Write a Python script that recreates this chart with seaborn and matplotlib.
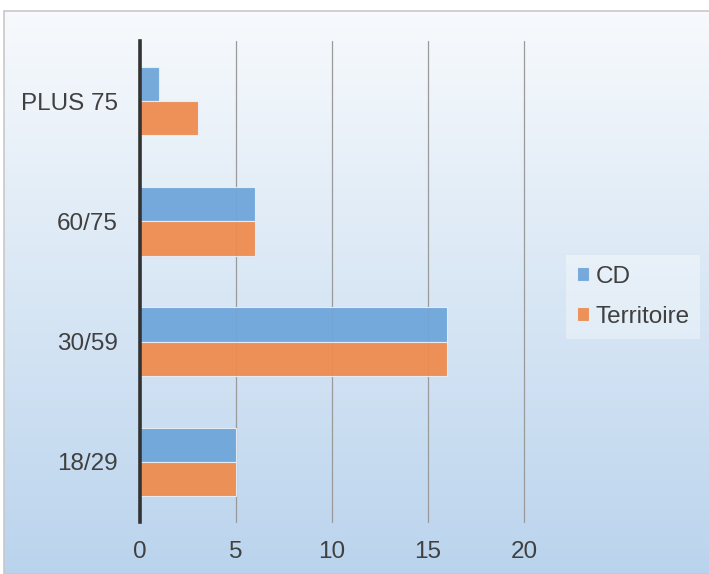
import numpy as np
import pandas as pd
import matplotlib
matplotlib.use("Agg")
import matplotlib.pyplot as plt
import seaborn as sns
from matplotlib.patches import Rectangle

# Données
tranches = ["PLUS 75", "60/75", "30/59", "18/29"]
cd = [1, 6, 16, 5]
territoire = [3, 6, 16, 5]
series = ["CD", "Territoire"]
couleurs = ["#6fa6da", "#ee8c4f"]
ticks_x = [0, 5, 10, 15, 20]

df = pd.DataFrame({
    "tranche": tranches * 2,
    "valeur": cd + territoire,
    "serie": [series[0]] * len(tranches) + [series[1]] * len(tranches),
})

sns.set_style("white")
plt.rcParams["font.family"] = ["Liberation Sans", "DejaVu Sans"]

W, H = 709, 574
fig = plt.figure(figsize=(W / 100, H / 100), dpi=100)
fig.patch.set_facecolor("white")

# fond dégradé
bg = fig.add_axes([4 / W, 0, 1 - 4 / W, (H - 11) / H], zorder=-10)
grad = np.linspace(0, 1, 256).reshape(-1, 1)
top = np.array([0.97, 0.98, 0.99])
bot = np.array([0.73, 0.83, 0.93])
img = top[None, None, :] * (1 - grad[:, :, None]) + bot[None, None, :] * grad[:, :, None]
bg.imshow(img, aspect="auto", extent=[0, 1, 0, 1])
bg.set_axis_off()
fig.patches.append(Rectangle((4 / W, 0), 1, (H - 11) / H, transform=fig.transFigure,
                             fill=False, edgecolor="#c8c8c8", linewidth=1.2))

ax = fig.add_axes([140 / W, (H - 522) / H, 384 / W, 481 / H])
ax.patch.set_alpha(0)

sns.barplot(data=df, y="tranche", x="valeur", hue="serie", order=tranches,
            hue_order=series, palette=couleurs, orient="h", width=0.57,
            edgecolor="#e8eef6", linewidth=0.8, alpha=0.95, saturation=1,
            err_kws={"linewidth": 0}, ax=ax)

ax.set_xlim(0, 20)
ax.set_xticks(ticks_x)
ax.xaxis.grid(True, color="#9a9a9a", linewidth=0.9)
for gl in ax.get_xgridlines():
    gl.set_clip_on(False)
ax.set_axisbelow(True)
ax.set_xlabel("")
ax.set_ylabel("")
for s in ["top", "right", "bottom"]:
    ax.spines[s].set_visible(False)
ax.spines["left"].set_color("#333333")
ax.spines["left"].set_linewidth(2.6)
ax.spines["left"].set_zorder(5)
ax.tick_params(axis="x", length=0, pad=14, labelsize=17.5, labelcolor="#404040")
ax.tick_params(axis="y", length=0, pad=16, labelsize=17.5, labelcolor="#404040")

leg = ax.legend(loc="center left", bbox_to_anchor=(1.078, 0.468), frameon=True,
                fontsize=17.5, handlelength=0.5, handleheight=0.5, handletextpad=0.25,
                labelspacing=0.75, borderpad=0.45, fancybox=False)
leg.get_frame().set_facecolor("#ffffff")
leg.get_frame().set_alpha(0.35)
leg.get_frame().set_linewidth(0)
for t in leg.get_texts():
    t.set_color("#404040")

fig.savefig("out.png", dpi=100)
